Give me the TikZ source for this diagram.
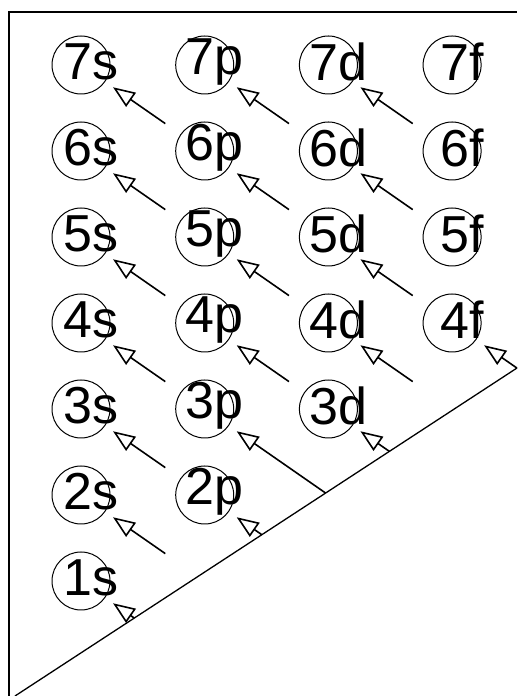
\documentclass[tikz,border=0pt]{standalone}
\usepackage{fontspec}
\setmainfont{Liberation Sans}
\usepackage{tikz}
\usetikzlibrary{arrows.meta,calc}

\begin{document}
\begin{tikzpicture}[x=1pt, y=1pt, >={Triangle[open,length=22pt,width=17pt]},
    orb/.style={circle, draw, line width=1pt, minimum size=58pt, inner sep=0pt, outer sep=0pt},
    otxt/.style={inner sep=0pt, font=\fontsize{52}{52}\selectfont},
    arr/.style={->, line width=1.6pt, shorten >=10pt},
    frame/.style={line width=1.3pt}]
    \useasboundingbox (0,0) rectangle (517,696);

    % orbitals, row n, column l
    \foreach \n in {1,...,7} {
        \foreach \l/\s in {0/s,1/p,2/d,3/f} {
            \ifnum\l<\n
                \node[orb] (o\n\s) at ({81+123.7*\l},{29+86*\n}) {};
                \node[otxt] (t\n\s) at ([xshift=10pt,yshift=3pt]o\n\s.center) {\n\s};
            \fi
        }
    }

    % empty places the arrows start from
    \coordinate (v0p) at ({81+123.7},29);
    \coordinate (v1p) at ({81+123.7},115);
    \coordinate (v1d) at ({81+123.7*2},115);
    \coordinate (v2d) at ({81+123.7*2},201);
    \coordinate (v2f) at ({81+123.7*3},201);
    \coordinate (v3f) at ({81+123.7*3},287);
    \coordinate (v3g) at ({81+123.7*4},287);

    \draw[frame] (9,0) -- (9,684) -- (517,684);
    \coordinate (d0) at (15,0);
    \coordinate (d1) at (517,328);
    \draw[frame] (d0) -- (d1);

    \foreach \a/\b in {o6p/o7s, o6d/o7p, o6f/o7d, o5p/o6s, o5d/o6p, o5f/o6d,
                       o4p/o5s, o4d/o5p, o4f/o5d, o3p/o4s, o3d/o4p, o2p/o3s}
        \draw[arr, shorten <=19pt] (\a) -- (\b);
    \draw[arr, shorten <=48pt] (v3f) -- (o4d);
    \draw[arr, shorten <=48pt] (v1p) -- (o2s);

    % arrows starting on the slanted line
    \draw[arr] (intersection of v0p--o1s and d0--d1) -- (o1s);
    \draw[arr] (intersection of v1d--o2p and d0--d1) -- (o2p);
    \draw[arr] (intersection of v2d--o3p and d0--d1) -- (o3p);
    \draw[arr] (intersection of v2f--o3d and d0--d1) -- (o3d);
    \draw[arr] (intersection of v3g--o4f and d0--d1) -- (o4f);
\end{tikzpicture}
\end{document}
